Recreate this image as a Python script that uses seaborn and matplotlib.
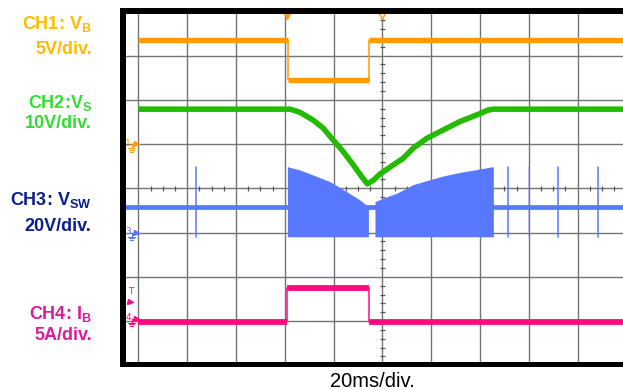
import numpy as np
import pandas as pd
import matplotlib
matplotlib.use("Agg")
import matplotlib.pyplot as plt
import seaborn as sns
from matplotlib.patches import Rectangle

# ---------------- data (time in ms, 20 ms/div) ----------------
t_end = 199.0
# CH1: V_B, 5 V/div, ground marker at division 5
ch1_scale, ch1_offset = 5.0, 5.0
ch1_edges = [61.4, 94.35]
ch1_levels = [11.8, 7.3, 11.8]          # volts

# CH2: V_S, 10 V/div
ch2_scale, ch2_offset = 10.0, 3.0
ch2_t = [0, 62.2, 66.2, 71.7, 75.8, 79.9, 84.0, 88.1, 91.6, 93.9, 96.3, 99.0,
         104.5, 108.6, 112.7, 118.2, 125.0, 131.8, 138.7, 143.4, 145.5, t_end]
ch2_v = [27.9, 27.9, 27.2, 25.4, 23.6, 20.9, 18.3, 15.3, 12.6, 11.0, 11.8, 13.2,
         15.3, 16.8, 19.1, 21.3, 23.2, 25.1, 26.6, 27.7, 27.9, 27.9]

# CH3: V_SW, 20 V/div, ground marker at division 3
ch3_scale, ch3_offset = 20.0, 3.0
ch3_base = 11.6
ch3_burst1_t = [61.1, 66.3, 71.7, 78.6, 85.4, 90.9, 94.3]
ch3_burst1_top = [29.8, 28.3, 26.0, 23.0, 18.5, 14.7, 11.7]
ch3_burst2_t = [97.0, 100.4, 105.9, 112.7, 118.2, 125.0, 131.8, 138.7, 145.5]
ch3_burst2_top = [14.0, 15.6, 17.8, 21.7, 23.5, 25.6, 27.2, 28.5, 29.8]
ch3_burst_bottom = -1.9
ch3_spike_t = [23.5, 151.6, 160.1, 172.1, 188.3]
ch3_spike_alpha = [1.0, 1.0, 0.45, 1.0, 1.0]
ch3_spike_top, ch3_spike_bottom = 29.8, -1.9

# CH4: I_B, 5 A/div, ground marker at division 1
ch4_scale, ch4_offset = 5.0, 1.0
ch4_edges = [60.95, 94.35]
ch4_levels = [-0.1, 3.7, -0.1]          # amps
ch4_trigger = 2.1

trigger_t = 61.1

labels = [
    ("CH1: V$_\\mathbf{B}$", "5V/div.", "#FFBB00", 28.5, 54.0),
    ("CH2:V$_\\mathbf{S}$", "10V/div.", "#33DD33", 108.0, 127.5),
    ("CH3: V$_\\mathbf{SW}$", "20V/div.", "#0A1E8C", 205.0, 231.0),
    ("CH4: I$_\\mathbf{B}$", "5A/div.", "#DD1A99", 318.5, 340.5),
]

C1, C2, C3, C4 = "#FF9A00", "#22BB00", "#5878FF", "#FF0A82"

# ---------------- figure ----------------
sns.set_theme(style="white")
plt.rcParams["font.family"] = ["Liberation Sans", "DejaVu Sans"]
plt.rcParams["mathtext.fontset"] = "custom"
plt.rcParams["mathtext.bf"] = "Liberation Sans:bold"
plt.rcParams["mathtext.rm"] = "Liberation Sans:bold"

W, H = 623, 390
fig = plt.figure(figsize=(W / 100, H / 100), dpi=100)
fig.patch.set_facecolor("white")

ax_l, ax_r, ax_t, ax_b = 126, 623, 14, 361.7
ax = fig.add_axes([ax_l / W, 1 - ax_b / H, (ax_r - ax_l) / W, (ax_b - ax_t) / H])
px_per_div_x, px_per_div_y = 48.8, 44.24
grid_x0, grid_y0 = 138.3, 365.3
xlim = ((ax_l - grid_x0) / px_per_div_x * 20, (ax_r - grid_x0) / px_per_div_x * 20)
ylim = ((grid_y0 - ax_b) / px_per_div_y, (grid_y0 - ax_t) / px_per_div_y)
ax.set_axis_off()

dt = 20 / px_per_div_x   # ms per pixel
dd = 1 / px_per_div_y    # div per pixel


def to_div(v, scale, offset):
    return offset + np.asarray(v, dtype=float) / scale


# graticule
gcol = "#747474"
for k in range(0, 10):
    ax.axvline(k * 20, color=gcol, lw=1.0, zorder=1)
for k in range(1, 8):
    ax.axhline(k, color=gcol, lw=1.0, zorder=1)
minor_x = [k * 5 for k in range(0, 40) if k % 4]
ax.vlines(minor_x, 4 - 2.2 * dd, 4 + 2.2 * dd, color="#555555", lw=0.9, zorder=1)
minor_y = [k * 0.2 for k in range(1, 40) if k % 5]
ax.hlines(minor_y, 100 - 2.2 * dt, 100 + 2.2 * dt, color="#555555", lw=0.9, zorder=1)


def step_segments(edges, levels, scale, offset):
    bounds = [0.0] + list(edges) + [t_end]
    rows = []
    for i, lev in enumerate(levels):
        for tt in (bounds[i], bounds[i + 1]):
            rows.append({"t": tt, "d": offset + lev / scale, "seg": i})
    return pd.DataFrame(rows)


def step_edges(ax, edges, levels, scale, offset, color):
    for i, e in enumerate(edges):
        ax.plot([e, e], [offset + levels[i] / scale, offset + levels[i + 1] / scale],
                color=color, lw=1.1, zorder=3)


# CH3 (blue)
ax.axhline(ch3_offset + ch3_base / ch3_scale, color=C3, lw=3.4, zorder=2)
for bt, btop in ((ch3_burst1_t, ch3_burst1_top), (ch3_burst2_t, ch3_burst2_top)):
    ax.fill_between(bt, to_div(ch3_burst_bottom, ch3_scale, ch3_offset),
                    to_div(btop, ch3_scale, ch3_offset), color=C3, lw=0, zorder=2)
for st, sa in zip(ch3_spike_t, ch3_spike_alpha):
    ax.plot([st, st], to_div([ch3_spike_bottom, ch3_spike_top], ch3_scale, ch3_offset),
            color=C3, lw=1.1, alpha=sa, zorder=2)

# CH1 (orange)
df1 = step_segments(ch1_edges, ch1_levels, ch1_scale, ch1_offset)
sns.lineplot(data=df1, x="t", y="d", units="seg", estimator=None, sort=False,
             color=C1, lw=3.9, solid_capstyle="butt", ax=ax, legend=False, zorder=3)
step_edges(ax, ch1_edges, ch1_levels, ch1_scale, ch1_offset, C1)

# CH2 (green)
df2 = pd.DataFrame({"t": ch2_t, "d": to_div(ch2_v, ch2_scale, ch2_offset)})
sns.lineplot(data=df2, x="t", y="d", estimator=None, sort=False, color=C2, lw=4.0,
             solid_joinstyle="round", solid_capstyle="butt", ax=ax, legend=False, zorder=4)

# CH4 (pink)
df4 = step_segments(ch4_edges, ch4_levels, ch4_scale, ch4_offset)
sns.lineplot(data=df4, x="t", y="d", units="seg", estimator=None, sort=False,
             color=C4, lw=4.2, solid_capstyle="butt", ax=ax, legend=False, zorder=3)
step_edges(ax, ch4_edges, ch4_levels, ch4_scale, ch4_offset, C4)

ax.set_xlim(*xlim)
ax.set_ylim(*ylim)
ax.set_xlabel("")
ax.set_ylabel("")

# channel ground markers on the left
def ground_marker(label, d, color):
    x_txt = (128 - grid_x0) * dt
    x_stem = (131.5 - grid_x0) * dt
    x_arr = (135.5 - grid_x0) * dt
    ax.text(x_txt, d + 1.0 * dd, label, color=color, fontsize=6.5, ha="center",
            va="center", zorder=6, family="DejaVu Sans")
    ax.plot([x_stem, x_arr], [d, d], color=color, lw=0.8, zorder=6)
    ax.plot([x_arr], [d], marker=">", ms=3.6, color=color, mec=color, zorder=6)
    ax.plot([x_stem, x_stem], [d, d - 4 * dd], color=color, lw=0.8, zorder=6)
    for w, yy in ((3.2, 4), (2.2, 5.7), (1.1, 7.4)):
        ax.plot([x_stem - w * dt, x_stem + w * dt], [d - yy * dd] * 2, color=color,
                lw=0.8, zorder=6)

ground_marker("1", ch1_offset, C1)
ground_marker("3", ch3_offset, C3)
ground_marker("4", ch4_offset + 2.5 * dd, C4)
trig_d = ch4_offset + ch4_trigger / ch4_scale
ax.text((128 - grid_x0) * dt, trig_d + 10.5 * dd, "T", color=C4, fontsize=6.5,
        ha="left", va="center", zorder=6, family="DejaVu Sans")
ax.plot([(129.5 - grid_x0) * dt], [trig_d], marker=">", ms=3.6, color=C4, zorder=6)

# trigger position markers at the top
ax.plot([trigger_t], [(grid_y0 - 15.5) * dd], marker="v", ms=5, color=C1, zorder=6,
        clip_on=False)
ax.plot([100], [(grid_y0 - 15.5) * dd], marker="v", ms=5, mfc="white", mec=C1,
        mew=1.0, zorder=6, clip_on=False)

# black screen frame
for (x0, y0, x1, y1) in ((120, 8, 126, 367), (120, 8, 623, 14), (120, 361.7, 623, 367)):
    fig.add_artist(Rectangle((x0 / W, 1 - y1 / H), (x1 - x0) / W, (y1 - y0) / H,
                             transform=fig.transFigure, color="black", lw=0, zorder=10))

# channel labels
for l1, l2, col, b1, b2 in labels:
    fig.text(91.7 / W, 1 - b1 / H, l1, color=col, fontsize=13, fontweight="bold",
             ha="right", va="baseline")
    fig.text(91.7 / W, 1 - b2 / H, l2, color=col, fontsize=13, fontweight="bold",
             ha="right", va="baseline")

fig.text(372.3 / W, 1 - 387.3 / H, "20ms/div.", color="black", fontsize=14.5,
         ha="center", va="baseline")

fig.savefig("out.png", dpi=100, facecolor="white")
